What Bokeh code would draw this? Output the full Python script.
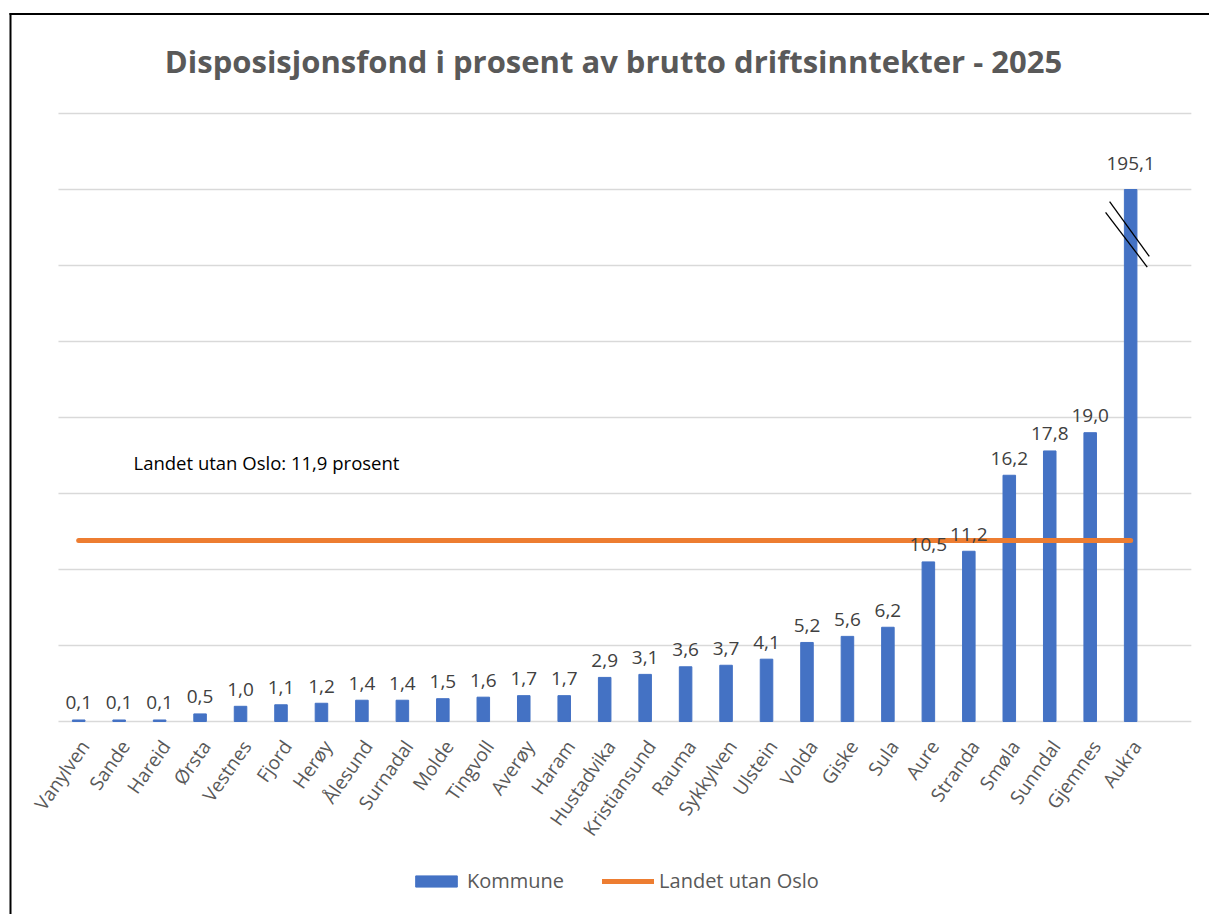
import math
from bokeh.plotting import figure
from bokeh.models import (ColumnDataSource, Legend, LegendItem, Range1d)
from bokeh.core.properties import value
from bokeh.embed import file_html
from bokeh.resources import INLINE

kommunar = ["Vanylven", "Sande", "Hareid", "Ørsta", "Vestnes", "Fjord", "Herøy", "Ålesund",
            "Surnadal", "Molde", "Tingvoll", "Averøy", "Haram", "Hustadvika", "Kristiansund",
            "Rauma", "Sykkylven", "Ulstein", "Volda", "Giske", "Sula", "Aure", "Stranda",
            "Smøla", "Sunndal", "Gjemnes", "Aukra"]
prosent = [0.1, 0.1, 0.1, 0.5, 1.0, 1.1, 1.2, 1.4, 1.4, 1.5, 1.6, 1.7, 1.7, 2.9, 3.1,
           3.6, 3.7, 4.1, 5.2, 5.6, 6.2, 10.5, 11.2, 16.2, 17.8, 19.0, 195.1]
landet_utan_oslo = 11.9
akse_tak = 35.0          # bars above this are drawn broken at this value
y_ticks = [0, 5, 10, 15, 20, 25, 30, 35, 40]
title = "Disposisjonsfond i prosent av brutto driftsinntekter - 2025"
ref_label = "Landet utan Oslo: 11,9 prosent"

FONT = "Open Sans"
W, H = 1209, 914
ORIGIN = 0                 # page offset of the canvas
# page-pixel geometry of the plotting area (scale: one category = DX px, one unit = DY px)
PX0, DX = 78.2, 40.46      # page x of first category centre, px per category
PY0, DY = 721.0, 15.2      # page y of value 0, px per percent
def dx(px):  # page x -> data x
    return (px - PX0) / DX
def dy(py):  # page y -> data y
    return (PY0 - py) / DY

n = len(kommunar)
x = list(range(n))
vis = [min(v, akse_tak) for v in prosent]
etikett = [f"{v:.1f}".replace(".", ",") for v in prosent]
lab_off = [-26 if v > akse_tak else -17 for v in prosent]

src = ColumnDataSource(dict(x=x, top=vis, lab=etikett, off=lab_off, name=kommunar))

p = figure(width=W, height=H, output_backend="svg", toolbar_location=None,
           x_range=Range1d(dx(ORIGIN), dx(ORIGIN + W)),
           y_range=Range1d(dy(ORIGIN + H), dy(ORIGIN)),
           min_border=0)
p.xaxis.visible = False
p.yaxis.visible = False
p.grid.visible = False
p.outline_line_color = None
p.background_fill_color = "white"
p.border_fill_color = "white"

# chart border (top and left edges visible), meeting at the corner
p.segment(x0=[dx(9), dx(10)], y0=[dy(13.5), dy(12.5)],
          x1=[dx(ORIGIN + W + 5), dx(10)], y1=[dy(13.5), dy(ORIGIN + H + 5)],
          line_color="black", line_width=2)

# horizontal gridlines across the category area
p.segment(x0=[-0.5] * len(y_ticks), x1=[n + 0.5] * len(y_ticks), y0=y_ticks, y1=y_ticks,
          line_color="#D9D9D9", line_width=1.5)

bars = p.vbar(x="x", top="top", width=0.31, source=src, color="#4472C4")
line = p.line(x=[x[0], x[-1]], y=[landet_utan_oslo, landet_utan_oslo],
              line_color="#ED7D31", line_width=5, line_cap="round")

p.text(x="x", y="top", text="lab", source=src, text_align="center",
       text_baseline="alphabetic", y_offset="off", text_font=value(FONT),
       text_font_size="19px", text_color="#404040")

# category labels, rotated
p.text(x=[xi + 0.15 for xi in x], y=[dy(742)] * n, text=kommunar,
       angle=math.radians(55), text_align="right", text_baseline="middle",
       text_font=value(FONT), text_font_size="19px", text_color="#595959")

p.text(x=[dx(133)], y=[dy(462)], text=[ref_label],
       text_baseline="middle", text_align="left", text_font=value(FONT),
       text_font_size="18.5px", text_color="black")

p.text(x=[dx(613)], y=[dy(60)], text=[title], text_align="center",
       text_baseline="middle", text_font=value(FONT), text_font_size="31px",
       text_font_style="bold", text_color="#595959")

# axis break marks on the capped bar
i_big = prosent.index(max(prosent))
p.segment(x0=[i_big - 0.52, i_big - 0.62], y0=[34.2, 33.5],
          x1=[i_big + 0.46, i_big + 0.41], y1=[30.6, 29.9],
          line_color="black", line_width=1.3)

legend = Legend(items=[LegendItem(label="Kommune", renderers=[bars]),
                       LegendItem(label="Landet utan Oslo", renderers=[line])],
                orientation="horizontal", location=(410 - ORIGIN, 20),
                label_text_font=FONT, label_text_font_size="20px",
                label_text_color="#595959", glyph_width=52, glyph_height=14,
                spacing=38, border_line_color=None, margin=0, padding=0,
                label_standoff=5, background_fill_alpha=0)
p.add_layout(legend, "center")

open("out.html", "w").write(file_html(p, INLINE))
